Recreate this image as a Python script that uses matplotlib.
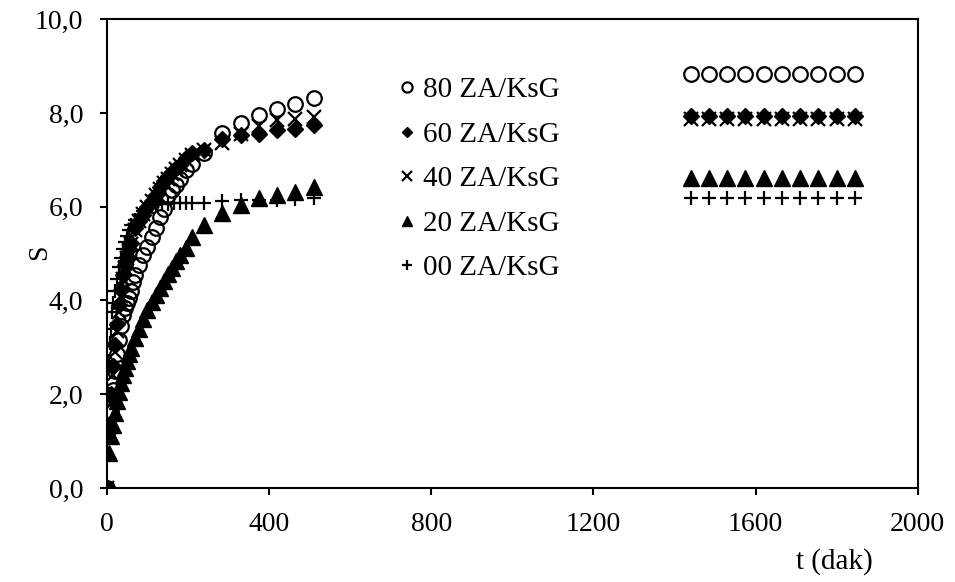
import matplotlib
matplotlib.use("Agg")
import matplotlib.pyplot as plt
from matplotlib.ticker import FuncFormatter

plt.rcParams["font.family"] = ["Liberation Serif", "DejaVu Serif"]

t_80 = [0, 5, 10, 15, 20, 25, 30, 35, 40, 45, 50, 55, 60, 65, 70, 80, 90, 100, 110, 120,
        130, 140, 150, 160, 170, 180, 195, 210, 240, 285, 330, 375, 420, 465, 510]
s_80 = [0, 1.25, 1.65, 2.1, 2.5, 2.85, 3.15, 3.45, 3.7, 3.85, 3.95, 4.05, 4.2, 4.4, 4.55,
        4.75, 4.97, 5.14, 5.36, 5.54, 5.78, 5.96, 6.25, 6.35, 6.46, 6.6, 6.78, 6.92, 7.15,
        7.58, 7.79, 7.95, 8.08, 8.19, 8.31]

t_std = [0, 5, 10, 15, 20, 25, 30, 35, 40, 45, 50, 55, 60, 70, 80, 90, 100, 110, 120,
         130, 140, 150, 160, 170, 180, 195, 210, 240, 285, 330, 375, 420, 465, 510]
s_60 = [0, 1.3, 2.0, 2.6, 3.05, 3.5, 3.9, 4.22, 4.55, 4.75, 4.93, 5.1, 5.22, 5.54, 5.7,
        5.82, 6.0, 6.12, 6.25, 6.42, 6.55, 6.65, 6.74, 6.82, 6.89, 7.05, 7.15, 7.22, 7.45,
        7.53, 7.56, 7.63, 7.65, 7.74]
s_40 = [0, 1.2, 1.8, 2.4, 2.9, 3.35, 3.75, 4.1, 4.45, 4.7, 4.9, 5.05, 5.2, 5.5, 5.7,
        5.85, 6.0, 6.12, 6.25, 6.38, 6.5, 6.6, 6.7, 6.8, 6.88, 7.0, 7.1, 7.2, 7.36, 7.55,
        7.72, 7.84, 7.87, 7.92]
s_20 = [0, 0.75, 1.1, 1.35, 1.6, 1.85, 2.05, 2.25, 2.4, 2.55, 2.7, 2.85, 2.98, 3.2, 3.4,
        3.6, 3.8, 3.97, 4.12, 4.27, 4.42, 4.56, 4.7, 4.84, 4.98, 5.12, 5.35, 5.6, 5.86,
        6.03, 6.18, 6.25, 6.32, 6.42]

t_00 = [0, 2, 4, 6, 8, 10, 12, 15, 20, 25, 30, 35, 40, 45, 50, 55, 60, 70, 80, 90, 100,
        110, 120, 135, 150, 165, 180, 195, 210, 240, 285, 330, 375, 420, 465, 510]
s_00 = [0, 1.3, 2.0, 2.7, 3.1, 3.4, 3.75, 3.95, 4.2, 4.45, 4.72, 4.9, 5.1, 5.25, 5.38,
        5.5, 5.6, 5.72, 5.82, 5.9, 5.95, 6.0, 6.03, 6.05, 6.05, 6.07, 6.07, 6.07, 6.08,
        6.08, 6.12, 6.15, 6.15, 6.15, 6.17, 6.18]

# long-time (plateau) points
t_end = [1440, 1485, 1530, 1575, 1620, 1665, 1710, 1755, 1800, 1845]
end_80 = [8.83] * 10
end_60 = [7.93] * 10
end_40 = [7.87] * 10
end_20 = [6.61] * 10
end_00 = [6.18] * 10

labels = ["80 ZA/KsG", "60 ZA/KsG", "40 ZA/KsG", "20 ZA/KsG", "00 ZA/KsG"]

fig = plt.figure(figsize=(9.55, 5.82), dpi=100)
ax = fig.add_axes([0.112, 0.1615, 0.849, 0.8055])

style = dict(linestyle="none", color="black")
ax.plot(t_80 + t_end, s_80 + end_80, marker="o", ms=10.5, mfc="none", mew=1.6,
        label=labels[0], **style)
ax.plot(t_std + t_end, s_60 + end_60, marker="D", ms=8, label=labels[1], **style)
ax.plot(t_std + t_end, s_40 + end_40, marker="x", ms=9.5, mew=1.6, label=labels[2], **style)
ax.plot(t_std + t_end, s_20 + end_20, marker="^", ms=11, label=labels[3], **style)
ax.plot(t_00 + t_end, s_00 + end_00, marker="+", ms=10, mew=1.6, label=labels[4], **style)

ax.set_xlim(0, 2000)
ax.set_ylim(0, 10)
ax.set_xticks(range(0, 2001, 400))
ax.set_yticks(range(0, 11, 2))
ax.yaxis.set_major_formatter(FuncFormatter(lambda v, p: f"{v:.1f}".replace(".", ",")))
ax.tick_params(direction="out", length=5, width=1.5, labelsize=20, pad=12)
for sp in ax.spines.values():
    sp.set_linewidth(1.5)

# axis titles placed by hand, like the original
fig.text(0.042, 0.567, "S", fontsize=20, rotation=90, ha="center", va="center")
fig.text(0.914, 0.012, "t (dak)", fontsize=21, ha="right", va="bottom")

ax.legend(loc="upper left", bbox_to_anchor=(0.4045, 0.888), bbox_transform=fig.transFigure,
          frameon=False, fontsize=21, markerscale=0.7, handlelength=0.6,
          handletextpad=0.25, labelspacing=0.62, borderaxespad=0)

fig.savefig("out.png", dpi=100)
